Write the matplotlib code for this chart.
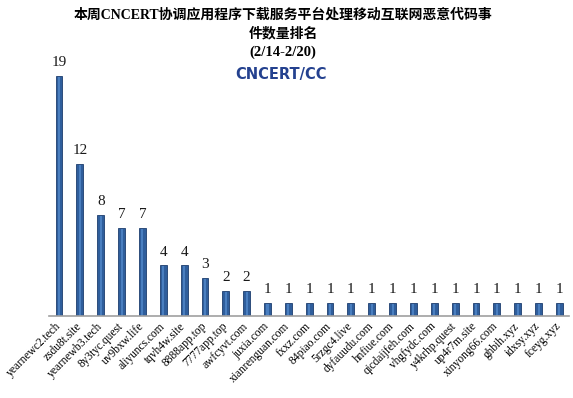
import matplotlib.pyplot as plt
from matplotlib.transforms import ScaledTranslation

# Data
domains = ['yearnewc2.tech', 'zsdu8t.site', 'yearnewb3.tech', '8y3tyc.quest', 'uv9bxw.life',
           'aliyuncs.com', 'tqvh4w.site', '8888app.top', '7777app.top', 'awfcyvt.com',
           'juxia.com', 'xianrenguan.com', 'fxxz.com', '84piao.com', '5rzgc4.live',
           'dyfauudu.com', 'hnfiue.com', 'qicdaijfeh.com', 'vhgfydc.com', 'y4krhp.quest',
           'up4r7m.site', 'xinyong66.com', 'ghbih.xyz', 'idxsy.xyz', 'fceyg.xyz']
counts = [19, 12, 8, 7, 7, 4, 4, 3, 2, 2, 1, 1, 1, 1, 1, 1, 1, 1, 1, 1, 1, 1, 1, 1, 1]

title_lines = ['本周CNCERT协调应用程序下载服务平台处理移动互联网恶意代码事', '件数量排名', '(2/14-2/20)']

fig = plt.figure(figsize=(5.73, 3.98), dpi=100)
ax = fig.add_axes([0.0855, 0.206, 0.9075, 0.635])

x = range(len(domains))
bars = ax.bar(x, counts, width=0.33, color='#2f5e9c', edgecolor='#1d3d6e', linewidth=0.6)
# lighter strip to mimic the shaded bars
ax.bar(x, [c - 0.08 for c in counts], width=0.1, color='#4a7fc0', linewidth=0)

# Value labels
for rect, val in zip(bars, counts):
    ax.annotate(str(val), (rect.get_x() + rect.get_width() / 2, rect.get_height()),
                xytext=(0, 5), textcoords='offset points', ha='center', va='bottom',
                fontsize=11, family='Liberation Serif', color='#1a1a1a')

ax.set_xlim(-0.48, 24.46)
ax.set_ylim(0, 20)
ax.set_yticks([])
ax.set_xticks(list(x))
ax.set_xticklabels(domains, rotation=45, ha='right', fontsize=8.3, family='Liberation Serif')
ax.tick_params(axis='x', length=0, pad=3)
shift = ScaledTranslation(4 / 100, 0, fig.dpi_scale_trans)
for lbl in ax.get_xticklabels():
    lbl.set_transform(lbl.get_transform() + shift)
for side in ['top', 'right', 'left']:
    ax.spines[side].set_visible(False)
ax.spines['bottom'].set_color('#a0a0a0')
ax.spines['bottom'].set_linewidth(1.2)

# Title
fam = ['Liberation Serif', 'Noto Sans CJK SC']
fig.text(0.494, 1 - 15 / 398, title_lines[0], ha='center', va='center', fontsize=10,
         fontweight='bold', family=fam)
fig.text(0.494, 1 - 34 / 398, title_lines[1], ha='center', va='center', fontsize=10,
         fontweight='bold', family=fam)
fig.text(0.494, 1 - 52 / 398, title_lines[2], ha='center', va='center', fontsize=10.5,
         fontweight='bold', family=fam)

# Logo text
fig.text(0.49, 1 - 74 / 398, 'CNCERT/CC', ha='center', va='center', fontsize=10.5,
         fontweight='bold', family='DejaVu Sans Condensed', color='#24418f')

fig.savefig('out.png', dpi=100)
